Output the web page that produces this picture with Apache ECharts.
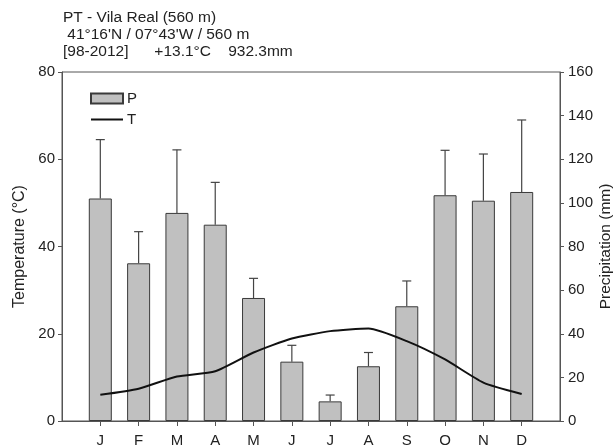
<!DOCTYPE html>
<html><head><meta charset="utf-8">
<script src="https://cdn.jsdelivr.net/npm/echarts@6/dist/echarts.min.js"></script>
<style>html,body{margin:0;padding:0;background:#fff}#c{width:616px;height:448px}</style>
</head><body><div id="c"></div>
<script>
const months = ['J','F','M','A','M','J','J','A','S','O','N','D'];
const precip = [102, 72.3, 95.4, 90, 56.4, 27.2, 9, 25.1, 52.6, 103.5, 101, 105];
const precipErrTop = [129, 86.8, 124.3, 109.4, 65.4, 34.7, 11.9, 31.4, 64.2, 124.1, 122.4, 138];
const temp = [6.0, 7.4, 10.2, 11.4, 15.7, 18.9, 20.6, 21.2, 18.3, 14.1, 8.8, 6.2];
const tempTicks = [0, 20, 40, 60, 80];
const precipTicks = [0, 20, 40, 60, 80, 100, 120, 140, 160];

const cats = [''].concat(months, ['']);
const barData = [null].concat(precip, [null]);
const lineData = [null].concat(temp, [null]);
const errData = months.map((m, i) => [i + 1, precip[i], precipErrTop[i]]);

const axisCol = '#555';
const txtCol = '#222';
const font = 'Liberation Sans, Arial, sans-serif';

const chart = echarts.init(document.getElementById('c'), null, {renderer: 'canvas'});
chart.setOption({
  animation: false,
  title: {
    text: 'PT - Vila Real (560 m)\n 41°16\'N / 07°43\'W / 560 m\n[98-2012]      +13.1°C    932.3mm',
    left: 58, top: 4,
    textStyle: {fontFamily: font, fontSize: 15.5, fontWeight: 'normal', color: txtCol, lineHeight: 17}
  },
  legend: {
    orient: 'vertical', left: 85, top: 86, itemWidth: 32, itemHeight: 10, itemGap: 6,
    textStyle: {fontFamily: font, fontSize: 15, color: txtCol, padding: [0, 0, 0, -1]},
    data: [
      {name: 'P', icon: 'rect'},
      {name: 'T', icon: 'path://M0,0 L32,0 L32,2 L0,2 Z', itemStyle: {color: '#111'}}
    ]
  },
  grid: {left: 62, right: 56, top: 72, bottom: 27, show: true, borderColor: axisCol, borderWidth: 1,
    containLabel: false, outerBoundsMode: 'none'},
  xAxis: {
    type: 'category', data: cats, boundaryGap: false,
    axisLine: {lineStyle: {color: axisCol}},
    axisTick: {length: 5, lineStyle: {color: axisCol}, interval: (i) => i > 0 && i < cats.length - 1},
    axisLabel: {fontFamily: font, fontSize: 15, color: txtCol, margin: 12, interval: 0},
    splitLine: {show: false}
  },
  yAxis: [
    {
      type: 'value', min: 0, max: 80, interval: 20, position: 'left',
      name: 'Temperature (°C)', nameLocation: 'middle', nameGap: 34, nameRotate: 90,
      nameTextStyle: {fontFamily: font, fontSize: 16, color: txtCol},
      axisLine: {show: true, lineStyle: {color: axisCol}},
      axisTick: {show: true, length: 4, lineStyle: {color: axisCol}},
      axisLabel: {fontFamily: font, fontSize: 15, color: txtCol, margin: 7,
        formatter: (v) => tempTicks.includes(v) ? String(v) : ''},
      splitLine: {show: false}
    },
    {
      type: 'value', min: 0, max: 160, interval: 20, position: 'right',
      name: 'Precipitation (mm)', nameLocation: 'middle', nameGap: 38, nameRotate: 90,
      nameMoveOverlap: false,
      nameTextStyle: {fontFamily: font, fontSize: 15.5, color: txtCol},
      axisLine: {show: true, lineStyle: {color: axisCol}},
      axisTick: {show: true, length: 4, lineStyle: {color: axisCol}},
      axisLabel: {fontFamily: font, fontSize: 15, color: txtCol, margin: 8,
        formatter: (v) => precipTicks.includes(v) ? String(v) : ''},
      splitLine: {show: false}
    }
  ],
  series: [
    {
      name: 'P', type: 'bar', yAxisIndex: 1, data: barData, barWidth: 23,
      itemStyle: {color: '#c0c0c0', borderColor: '#3a3a3a', borderWidth: 1}
    },
    {
      name: 'errP', type: 'custom', yAxisIndex: 1, data: errData, z: 1,
      renderItem: function (params, api) {
        const x = api.value(0);
        const base = api.coord([x, api.value(1)]);
        const top = api.coord([x, api.value(2)]);
        const hw = 4.5;
        const st = {stroke: '#444', lineWidth: 1.2};
        return {type: 'group', children: [
          {type: 'line', shape: {x1: base[0], y1: base[1], x2: top[0], y2: top[1]}, style: st},
          {type: 'line', shape: {x1: top[0] - hw, y1: top[1], x2: top[0] + hw, y2: top[1]}, style: st}
        ]};
      }
    },
    {
      name: 'T', type: 'line', yAxisIndex: 0, data: lineData, symbol: 'none', smooth: 0.2,
      connectNulls: false,
      lineStyle: {color: '#111', width: 2}, itemStyle: {color: '#111'}, z: 5
    }
  ]
});
</script></body></html>
